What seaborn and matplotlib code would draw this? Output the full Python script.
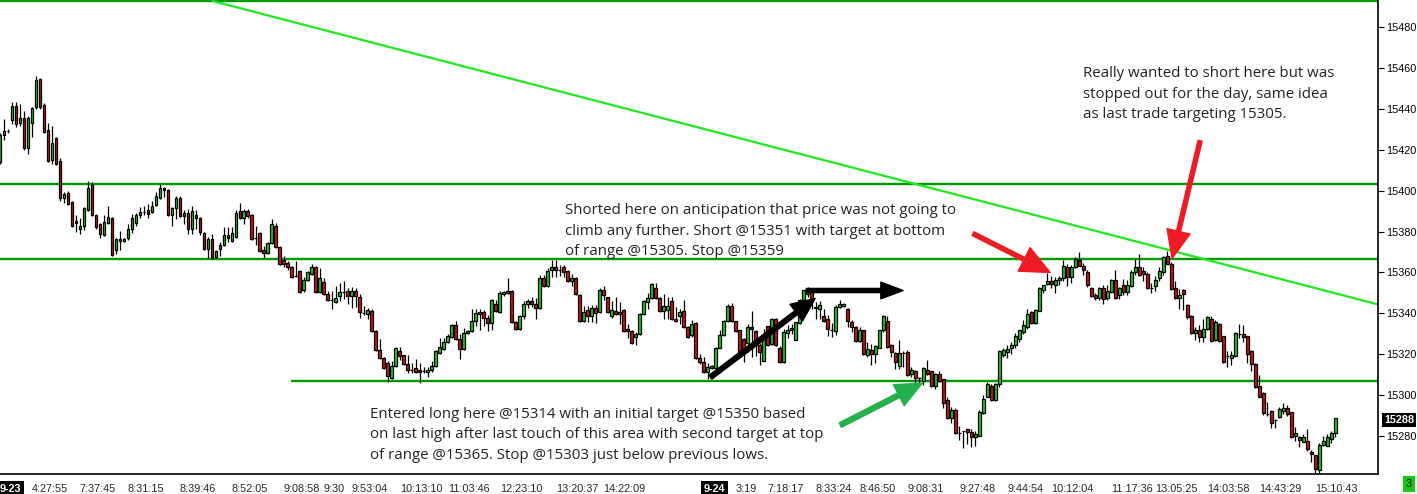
import numpy as np
import pandas as pd
import matplotlib
matplotlib.use("Agg")
import matplotlib.pyplot as plt
import matplotlib.transforms as mtransforms
import seaborn as sns

# candle values (one per bar, 9-23 then 9-24 session)
opens = [
    15414, 15427, 15429, 15434.5, 15441.5, 15433.3, 15435.5, 15421, 15433, 15441,
    15454.5, 15442, 15429.5, 15415, 15425.5, 15414.5, 15396.5, 15399, 15394.5, 15385,
    15381.5, 15382.5, 15390.5, 15403, 15388, 15383.5, 15378.5, 15384, 15386.5, 15371,
    15376.5, 15375.5, 15377, 15381.5, 15384, 15388, 15389.5, 15390.5, 15389.5, 15393,
    15396.5, 15401.5, 15400.5, 15388, 15391.5, 15396.5, 15387.5, 15389, 15381.5, 15388,
    15386.5, 15379.5, 15371.5, 15376.5, 15367.5, 15371.5, 15373.5, 15378.5, 15375.5, 15377.5,
    15390, 15386.5, 15390, 15388, 15377, 15379.5, 15371, 15369.5, 15374.5, 15382.5,
    15372.5, 15366, 15364.5, 15362.5, 15358.5, 15360.5, 15351.5, 15356.5, 15359.5, 15362.5,
    15350.5, 15355.5, 15349.5, 15346.5, 15345.5, 15348.3, 15350.5, 15351, 15348.5, 15351,
    15348, 15340, 15339.5, 15341, 15331.5, 15322, 15318, 15316, 15308.5, 15314.5,
    15321.5, 15319.5, 15315.5, 15312.5, 15313.5, 15312.5, 15312, 15311.5, 15312.5, 15314.5,
    15320.5, 15322.5, 15326, 15328.5, 15334.5, 15327.5, 15322.5, 15330.5, 15331.5, 15336.5,
    15339.5, 15340.5, 15338, 15335.5, 15344.5, 15340.5, 15349.5, 15350, 15351, 15336,
    15332.5, 15338.5, 15344.5, 15346, 15344.5, 15342.5, 15357.5, 15353.5, 15361, 15362.5,
    15361, 15362.5, 15360.5, 15356, 15357.5, 15349, 15336.5, 15341.5, 15338.5, 15342.5,
    15340.5, 15351.5, 15348, 15338.5, 15341, 15340.5, 15341.5, 15332.5, 15331.5, 15328.5,
    15329.8, 15339.5, 15345.5, 15347.5, 15352.5, 15347.5, 15341, 15341.5, 15346, 15337.5,
    15338.5, 15341, 15333.3, 15329.5, 15335.3, 15318.4, 15316.3, 15311.4, 15313.5, 15313.5,
    15323.3, 15329.6, 15336.3, 15343.4, 15336.3, 15331.7, 15327.7, 15325.5, 15333.3, 15331.4,
    15324.4, 15316.8, 15333.7, 15325.2, 15337.4, 15323.3, 15316.3, 15330.4, 15331.7, 15327.2,
    15335.3, 15346.4, 15349.6, 15350.4, 15343, 15342.3, 15338.5, 15337.4, 15331.7, 15331.4,
    15343.1, 15343.5, 15342.3, 15335.8, 15333.3, 15326.5, 15331.7, 15319.5, 15322.3, 15320.4,
    15323.3, 15331.7, 15336.3, 15324.4, 15320.7, 15314.2, 15320.7, 15321.3, 15310.6, 15311.7,
    15308.2, 15307, 15312.5, 15311.7, 15304.4, 15310.6, 15307.7, 15297.9, 15288.7, 15292.7,
    15281.3, 15282.4, 15283.3, 15282.1, 15279.4, 15280.2, 15291.4, 15299.2, 15304.4, 15297.6,
    15305.7, 15319.5, 15321.3, 15323.3, 15324.4, 15327.7, 15330.9, 15333.3, 15340.7, 15335.3,
    15341.1, 15351.6, 15354.2, 15355.6, 15353.7, 15356.4, 15357.4, 15362.6, 15358, 15362.6,
    15365.9, 15363.4, 15360.2, 15352.6, 15348.8, 15347.7, 15352.6, 15347.7, 15350.4, 15356.4,
    15348.8, 15353.7, 15350.4, 15353.3, 15360.2, 15362.6, 15360.5, 15359.4, 15352.6, 15353.3,
    15357.4, 15360.2, 15368.3, 15364.3, 15352.6, 15347.7, 15351.6, 15344, 15338.5, 15330.4,
    15331.7, 15328.5, 15332.5, 15337.4, 15327.2, 15334.7, 15328.8, 15319.4, 15318.4, 15319,
    15329.8, 15329.8, 15328.8, 15321.6, 15315.5, 15304.4, 15301.3, 15290.7, 15292.4, 15287.8,
    15289.4, 15292.4, 15293.8, 15291.6, 15280.1, 15279.7, 15277.2, 15277.7, 15272.4, 15270.7,
    15263.4, 15275.6, 15275.3, 15278.4, 15281.3,
]
highs = [
    15428, 15435, 15430, 15443.5, 15443.5, 15442.6, 15439, 15436.5, 15441, 15456,
    15455, 15443, 15433, 15431.5, 15426, 15416, 15399.5, 15400, 15395, 15388,
    15386.5, 15392, 15404.5, 15404, 15388.5, 15384, 15388, 15392.5, 15387, 15377,
    15380.5, 15377, 15383.5, 15388.5, 15389, 15392, 15392.5, 15393.5, 15395, 15399.5,
    15403.5, 15402, 15401, 15392, 15397.5, 15397.5, 15390.5, 15391, 15392.5, 15390.5,
    15387, 15380, 15377.5, 15379, 15371, 15375, 15382, 15382, 15382, 15390.5,
    15394, 15391, 15391, 15388.5, 15382.5, 15380, 15373, 15375, 15386, 15384,
    15373, 15368, 15365.5, 15363, 15365.5, 15361, 15358, 15360.5, 15364, 15363,
    15362, 15357.5, 15351, 15351, 15353.5, 15355, 15356, 15352.5, 15353, 15352.5,
    15349.5, 15343.5, 15342.5, 15342, 15332, 15327.5, 15318.5, 15316.5, 15316.5, 15323.5,
    15323.5, 15319.5, 15319.5, 15316, 15317.5, 15316, 15314, 15314, 15316.5, 15322,
    15328, 15328, 15330, 15335, 15336.5, 15330, 15333, 15332, 15342, 15342,
    15342, 15341.5, 15339, 15347, 15346.5, 15351, 15351, 15357.5, 15351.5, 15336.5,
    15339, 15346, 15347, 15348, 15347.5, 15359, 15359, 15362, 15366, 15366,
    15363.5, 15363.5, 15361, 15359.5, 15358, 15349.5, 15343.5, 15343.5, 15344, 15344,
    15352.5, 15353.5, 15348, 15346, 15348, 15345.5, 15342, 15335, 15332, 15331,
    15340, 15346.5, 15350, 15355, 15355, 15348, 15349.5, 15348, 15348, 15343,
    15342, 15346.7, 15334, 15337, 15336, 15320, 15318.7, 15316, 15315, 15323.5,
    15331.7, 15336.7, 15344.4, 15345, 15336.5, 15332, 15328, 15335, 15341, 15332,
    15325.5, 15332.5, 15334, 15338, 15338, 15324, 15332.5, 15334.4, 15335, 15336,
    15347, 15351.5, 15353, 15352, 15345.5, 15346, 15342.3, 15339, 15335.5, 15344,
    15346.7, 15345, 15342.5, 15337, 15334, 15333.4, 15332, 15326, 15325, 15324.5,
    15332, 15339.3, 15338.5, 15325, 15321, 15326.9, 15321.5, 15322, 15314, 15312.5,
    15309, 15314, 15317.4, 15312, 15311, 15312, 15308, 15299.2, 15294.3, 15294,
    15285, 15282.5, 15283.5, 15283.5, 15282.5, 15293, 15300, 15306.5, 15305.5, 15306,
    15322, 15323, 15324.4, 15326, 15330.4, 15332, 15337, 15342.3, 15341, 15342,
    15353, 15354, 15359.7, 15358.5, 15357.7, 15358.5, 15366.2, 15364, 15363.5, 15367.8,
    15369.9, 15364.5, 15361, 15353, 15350, 15353, 15354, 15354, 15357, 15361.3,
    15353, 15357, 15356.4, 15361.3, 15366.7, 15368.8, 15362.7, 15360, 15355, 15358.5,
    15362.7, 15368.3, 15370.7, 15365, 15355.8, 15352, 15352, 15344.5, 15339, 15333.4,
    15334.4, 15337.4, 15338.7, 15338.7, 15336.6, 15335.4, 15329, 15321.6, 15321.6, 15331,
    15335, 15334.4, 15329, 15322, 15316, 15309.8, 15301.5, 15296.8, 15293, 15288.5,
    15294.4, 15296, 15295, 15292, 15284.6, 15280, 15281, 15283.3, 15273, 15271,
    15276.5, 15280, 15281, 15282.6, 15289,
]
lows = [
    15413, 15425, 15428, 15432.5, 15431, 15431.4, 15420, 15418, 15426, 15440,
    15440, 15428, 15414, 15413, 15412.5, 15395, 15394, 15393, 15382, 15380,
    15379, 15381, 15390, 15387.5, 15381.5, 15377, 15378, 15383.5, 15368, 15369,
    15371, 15375, 15376, 15379.5, 15382.5, 15386.5, 15388, 15386.5, 15389, 15392.5,
    15396, 15397, 15387.5, 15382.5, 15386, 15387, 15383.5, 15379, 15379, 15381.5,
    15378.5, 15371, 15367, 15366.5, 15367, 15368, 15373, 15375, 15375, 15377,
    15386, 15383.5, 15386.5, 15376, 15373.5, 15370, 15367, 15369, 15374, 15372,
    15363.5, 15362.5, 15361, 15357.5, 15358, 15350, 15350.5, 15356, 15359, 15350,
    15350, 15349, 15346, 15342, 15345, 15346, 15347, 15344.5, 15342.5, 15343,
    15338, 15339, 15337.5, 15331, 15321.5, 15317.5, 15313, 15306.5, 15308, 15314,
    15317, 15315, 15311, 15311, 15311, 15306, 15311, 15309, 15311.5, 15314,
    15320, 15322, 15325.5, 15328, 15327, 15317.5, 15322, 15330, 15331, 15334,
    15332, 15334, 15331.5, 15332, 15340.5, 15340, 15348.5, 15349.5, 15335.5, 15332,
    15332, 15337.5, 15342.5, 15343, 15337.5, 15342, 15353, 15353, 15358, 15358,
    15358.5, 15358, 15355.5, 15353.5, 15349, 15336, 15336, 15336, 15336, 15335.5,
    15340, 15346.5, 15340, 15338, 15339, 15335, 15331, 15328, 15325, 15324.5,
    15329.5, 15339, 15342, 15347, 15347, 15340.5, 15337.5, 15337.5, 15337, 15336,
    15335, 15333, 15328, 15328.5, 15317.5, 15315.5, 15311, 15308, 15313, 15313,
    15323, 15329, 15336, 15336, 15331, 15321, 15316.3, 15321.3, 15318.7, 15319.4,
    15314.6, 15316.5, 15324, 15324.6, 15324, 15316, 15316, 15328, 15330, 15327,
    15335, 15346, 15348, 15342, 15337.5, 15337.5, 15336, 15329, 15328.5, 15329.3,
    15342.5, 15343, 15333.3, 15331, 15326, 15326, 15319.5, 15318.7, 15314.6, 15315.8,
    15323, 15331, 15323, 15318.7, 15313, 15313, 15313.7, 15309.5, 15309, 15305.6,
    15304.8, 15305, 15310, 15304, 15303, 15306.5, 15294, 15288.5, 15286.5, 15281,
    15278, 15274, 15276, 15274.5, 15275, 15280, 15291, 15299, 15297, 15297,
    15303.8, 15318.5, 15318, 15320, 15323, 15326, 15330, 15332.5, 15335, 15335,
    15341, 15350, 15354, 15352.5, 15350, 15353.7, 15356, 15353.5, 15355, 15362,
    15363, 15359, 15353, 15348, 15346.7, 15346.7, 15344.7, 15346.7, 15350, 15347,
    15347, 15349, 15349, 15353, 15359, 15358.5, 15356, 15352, 15349.8, 15351,
    15356, 15359, 15364, 15351.5, 15347, 15342.3, 15341.5, 15337.5, 15330, 15327.2,
    15326, 15326, 15332, 15326, 15326.5, 15326, 15316, 15313.8, 15315, 15318.7,
    15328, 15326, 15315.8, 15311.9, 15303.5, 15299, 15290.5, 15290, 15283.8, 15283.8,
    15289, 15291, 15290, 15279, 15277.7, 15274.8, 15277, 15272.7, 15267.5, 15262.1,
    15261.5, 15275, 15275, 15276.5, 15279.8,
]
closes = [
    15427, 15429, 15429, 15441.5, 15432.5, 15435.5, 15421, 15435.5, 15440.5, 15454,
    15441, 15428.5, 15414.5, 15423.5, 15413, 15396.5, 15398.5, 15393.5, 15382.5, 15384,
    15382.5, 15391.5, 15401.5, 15388, 15382, 15379, 15384.5, 15387, 15368.5, 15376.5,
    15375.5, 15376.5, 15381.5, 15386.5, 15388, 15389.5, 15389.5, 15388.5, 15392.5, 15397.5,
    15401.5, 15400.5, 15388, 15391.5, 15396.5, 15387.5, 15389, 15381.5, 15390, 15386.5,
    15380, 15371.5, 15376.5, 15367, 15370.5, 15373.5, 15378.5, 15377, 15379.5, 15389,
    15386.5, 15390, 15387.5, 15376.5, 15377, 15370.5, 15369.5, 15374.5, 15383.5, 15372.5,
    15364, 15364, 15362.5, 15358, 15358.5, 15350.5, 15356.5, 15360, 15362.5, 15350.5,
    15357.5, 15349.5, 15346.5, 15346.5, 15347.5, 15350.5, 15350.5, 15348.5, 15351, 15348.5,
    15340.5, 15340, 15341.5, 15331.5, 15322, 15318, 15313.5, 15309.5, 15314.5, 15323.3,
    15319, 15315.5, 15312.5, 15312.5, 15311.5, 15311.5, 15312, 15312.5, 15314.5, 15321.5,
    15323.5, 15326, 15329, 15334.5, 15327.5, 15322.5, 15330.5, 15331.5, 15336.5, 15340,
    15340.5, 15338, 15335.5, 15346.5, 15341, 15350, 15350.5, 15351, 15336, 15332.5,
    15338.5, 15344.5, 15346, 15344.5, 15342.5, 15357.5, 15353.5, 15360.5, 15362.5, 15361,
    15361, 15360, 15356, 15357.5, 15349.5, 15336.5, 15340.5, 15338.5, 15342.5, 15340,
    15351.5, 15349, 15340.5, 15341.5, 15339.5, 15339.5, 15331.5, 15331.5, 15325.5, 15329.8,
    15339.5, 15346, 15347.5, 15354.5, 15347.5, 15341, 15343.5, 15343.5, 15337.5, 15336.5,
    15340.5, 15333.3, 15328.5, 15335, 15318.2, 15316.3, 15311.4, 15313.8, 15314.5, 15323.3,
    15329.6, 15336.3, 15343.4, 15336.3, 15331.4, 15321.3, 15321.3, 15333.3, 15332.5, 15324.4,
    15321.3, 15329.3, 15324.4, 15337.4, 15324.4, 15316.3, 15330.9, 15331.7, 15333, 15335.8,
    15346.4, 15351.2, 15352, 15346.7, 15342.5, 15343.9, 15336.3, 15332.5, 15331.7, 15343.1,
    15344.4, 15344.4, 15336.3, 15333.3, 15326.5, 15331.7, 15320, 15322.5, 15320, 15324.1,
    15331.7, 15338.5, 15323.6, 15321.3, 15316.3, 15320.7, 15320.7, 15309.8, 15312.5, 15308.6,
    15308.2, 15313.5, 15310.6, 15304.4, 15310.6, 15307, 15296.3, 15288.7, 15292.7, 15281.3,
    15281.3, 15282.4, 15282.1, 15279.4, 15281, 15291.9, 15298.4, 15305.7, 15297.6, 15305.7,
    15321.5, 15322.3, 15322.5, 15324.4, 15328.8, 15331.7, 15334.2, 15339.5, 15335.3, 15341.5,
    15352.6, 15353.7, 15355.6, 15354.5, 15356.4, 15357.4, 15363.4, 15358, 15362.6, 15366.7,
    15363.4, 15361.3, 15353.7, 15348.3, 15347.7, 15352.6, 15347.1, 15350.9, 15356.4, 15347.7,
    15352.6, 15350.4, 15353.7, 15360.2, 15362.6, 15359, 15359.4, 15352.6, 15352.6, 15356.4,
    15360.5, 15367.8, 15364.3, 15352.1, 15347.7, 15348.8, 15349.6, 15338.2, 15330.4, 15331.7,
    15328.5, 15332.5, 15338.2, 15326.5, 15335.8, 15326.5, 15316.3, 15319.4, 15319.5, 15330.6,
    15329.8, 15328.5, 15320, 15315.5, 15304.1, 15299.2, 15291.1, 15290.7, 15286.5, 15287.8,
    15293.5, 15294, 15290.6, 15279.4, 15281.3, 15278, 15279.7, 15273.5, 15271.2, 15263.8,
    15275.6, 15277.6, 15279.4, 15281.3, 15288.7,
]

# time axis labels (bar index where each label sits)
tick_idx = [0, 8, 20, 32, 45, 58, 71, 81, 88, 100, 112, 125, 139, 151,
            176, 184, 192, 204, 215, 227, 240, 252, 263, 278, 289, 302, 315, 329]
tick_text = ["9-23", "4:27:55", "7:37:45", "8:31:15", "8:39:46", "8:52:05", "9:08:58",
             "9:30", "9:53:04", "10:13:10", "11:03:46", "12:23:10", "13:20:37", "14:22:09",
             "9-24", "3:19", "7:18:17", "8:33:24", "8:46:50", "9:08:31", "9:27:48",
             "9:44:54", "10:12:04", "11:17:36", "13:05:25", "14:03:58", "14:43:29", "15:10:43"]
price_ticks = [15280, 15300, 15320, 15340, 15360, 15380, 15400, 15420, 15440, 15460, 15480]

# drawn support / resistance levels and the falling trend line
levels = [15492.5, 15403.3, 15366.8, 15307.0]
level_from = [0, 0, 0, 72.7]
trend_x = [53.2, 344.7]
trend_y = [15492.7, 15344.4]
last_price = 15288

df = pd.DataFrame({"open": opens, "high": highs, "low": lows, "close": closes})
df["idx"] = np.arange(len(df))
df["up"] = df["close"] >= df["open"]
df["body_lo"] = df[["open", "close"]].min(axis=1)
df["body_h"] = (df["close"] - df["open"]).abs()

sns.set_style("white")
plt.rcParams["font.family"] = ["Open Sans", "DejaVu Sans"]
axis_font = ["Liberation Sans", "DejaVu Sans"]
axis_size = 7.8

fig = plt.figure(figsize=(14.17, 4.94), dpi=100)
ax = fig.add_axes([0, 20 / 494, 1378 / 1417, 474 / 494])

x_max = 344.7
for lv, x0 in zip(levels, level_from):
    ax.hlines(lv, x0, x_max, color="#009a00", lw=1.7, zorder=1)
sns.lineplot(x=trend_x, y=trend_y, ax=ax, color="#1ee81e", lw=1.6, zorder=1)

# candles
ax.vlines(df["idx"], df["low"], df["high"], color="black", lw=0.9, zorder=2)
ax.bar(df["idx"], df["body_h"], bottom=df["body_lo"], width=0.68,
       color=np.where(df["up"], "#1fcc1f", "#d01414"), edgecolor="black",
       linewidth=0.9, zorder=3)

ax.set_xlim(0.2, x_max)
ax.set_ylim(15261.5, 15493.2)

for s in ["left", "top"]:
    ax.spines[s].set_visible(False)
for s in ["right", "bottom"]:
    ax.spines[s].set_color("black")
    ax.spines[s].set_linewidth(1.2)

ax.yaxis.tick_right()
ax.set_yticks(price_ticks)
ax.set_yticklabels([str(p) for p in price_ticks], family=axis_font, fontsize=axis_size)
ax.tick_params(axis="y", direction="out", length=4, width=0.8, pad=2, colors="black")

ax.set_xticks(tick_idx)
ax.set_xticklabels(tick_text, family=axis_font, fontsize=axis_size, ha="left")
ax.tick_params(axis="x", direction="out", length=4, width=0.8, pad=3)
for lab in ax.get_xticklabels():
    if "-" in lab.get_text():
        lab.set_color("white")
        lab.set_fontweight("bold")
        lab.set_bbox(dict(facecolor="black", edgecolor="none", pad=2))
ax.set_xlabel("")
ax.set_ylabel("")

# last price tag on the price axis
tr = mtransforms.blended_transform_factory(ax.transAxes, ax.transData)
ax.text(1.0045, last_price, str(last_price), transform=tr, ha="left", va="center",
        color="white", fontweight="bold", family=axis_font, fontsize=axis_size,
        bbox=dict(facecolor="black", edgecolor="none", pad=1.5), clip_on=False)
fig.text(1409 / 1417, 10 / 494, "3", ha="center", va="center", family=axis_font,
         fontsize=axis_size, color="black",
         bbox=dict(facecolor="#11cc11", edgecolor="none", pad=2))

# notes
note_kw = dict(ha="left", va="top", fontsize=10.8, color="#222222", linespacing=1.5)
fig.text(1083 / 1417, 1 - 66 / 494,
         "Really wanted to short here but was\nstopped out for the day, same idea\n"
         "as last trade targeting 15305.", **note_kw)
fig.text(565 / 1417, 1 - 203 / 494,
         "Shorted here on anticipation that price was not going to\n"
         "climb any further. Short @15351 with target at bottom\n"
         "of range @15305. Stop @15359", **note_kw)
fig.text(370 / 1417, 1 - 407 / 494,
         "Entered long here @15314 with an initial target @15350 based\n"
         "on last high after last touch of this area with second target at top\n"
         "of range @15365. Stop @15303 just below previous lows.", **note_kw)


def arrow(tail, head, color, hl, hw, tw, scale=20):
    ax.annotate("", xy=head, xytext=tail, annotation_clip=False,
                arrowprops=dict(arrowstyle=f"simple,head_length={hl},head_width={hw},tail_width={tw}",
                                color=color, shrinkA=0, shrinkB=0, mutation_scale=scale),
                zorder=5)


arrow((243.4, 15379.0), (262.7, 15360.0), "#ed1c24", 1.05, 0.95, 0.15)
arrow((300.2, 15424.4), (293.2, 15366.9), "#ed1c24", 1.0, 0.85, 0.15)
arrow((210.2, 15285.4), (230.7, 15305.9), "#22b14c", 0.95, 0.85, 0.18)
arrow((177.7, 15308.8), (203.9, 15347.3), "black", 0.85, 0.75, 0.17)
arrow((201.7, 15351.2), (225.9, 15351.2), "black", 0.8, 0.6, 0.15)

fig.savefig("out.png", dpi=100)
